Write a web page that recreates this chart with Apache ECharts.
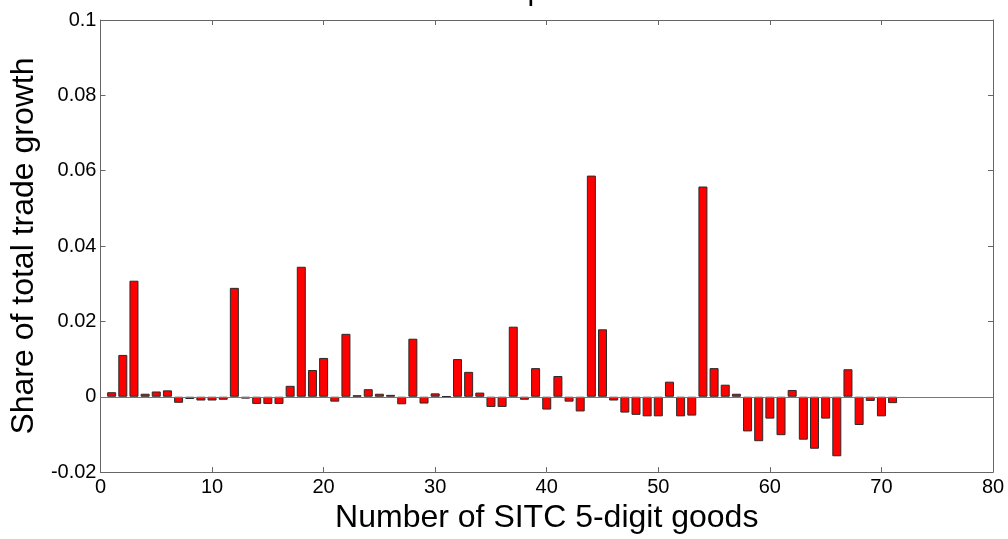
<!DOCTYPE html>
<html>
<head>
<meta charset="utf-8">
<script src="https://cdn.jsdelivr.net/npm/echarts@6/dist/echarts.min.js"></script>
<style>
html,body{margin:0;padding:0;background:#fff;}
#c{width:1008px;height:539px;}
</style>
</head>
<body>
<div id="c"></div>
<script>
// Data
const goods = [1,2,3,4,5,6,7,8,9,10,11,12,13,14,15,16,17,18,19,20,21,22,23,24,25,26,27,28,29,30,31,32,33,34,35,36,37,38,39,40,41,42,43,44,45,46,47,48,49,50,51,52,53,54,55,56,57,58,59,60,61,62,63,64,65,66,67,68,69,70,71];
const shareOfGrowth = [
  0.0012, 0.0111, 0.0308, 0.0008, 0.0014, 0.0017, -0.0016, -0.0006, -0.0010, -0.0010,
  -0.0008, 0.0289, -0.0005, -0.0019, -0.0019, -0.0019, 0.0029, 0.0345, 0.0071, 0.0103,
  -0.0013, 0.0167, 0.0004, 0.0020, 0.0008, 0.0005, -0.0020, 0.0154, -0.0018, 0.0009,
  0.0001, 0.0100, 0.0066, 0.0011, -0.0027, -0.0027, 0.0186, -0.0008, 0.0076, -0.0034,
  0.0055, -0.0013, -0.0039, 0.0587, 0.0179, -0.0010, -0.0042, -0.0048, -0.0052, -0.0052,
  0.0040, -0.0052, -0.0050, 0.0558, 0.0076, 0.0032, 0.0008, -0.0092, -0.0118, -0.0058,
  -0.0102, 0.0018, -0.0114, -0.0138, -0.0058, -0.0158, 0.0073, -0.0075, -0.0011, -0.0052,
  -0.0017
];
const xTicks = [0, 10, 20, 30, 40, 50, 60, 70, 80];
const yTicks = [-0.02, 0, 0.02, 0.04, 0.06, 0.08, 0.1];
const titleText = 'Sub-Saharan Africa exports to China';
const xName = 'Number of SITC 5-digit goods';
const yName = 'Share of total trade growth';

const FONT = '"Liberation Sans", Arial, sans-serif';
const axisColor = '#666';

const chart = echarts.init(document.getElementById('c'), null, {renderer: 'canvas'});
const fmtY = v => {
  const r = Math.round(v * 1000) / 1000;
  return r === 0 ? '0' : String(r);
};
const hiddenAxisCommon = {
  axisLine: {show: true, onZero: false, lineStyle: {color: axisColor, width: 1}},
  axisTick: {show: true, inside: true, length: 5, lineStyle: {color: axisColor}},
  axisLabel: {show: false},
  splitLine: {show: false}
};
chart.setOption({
  animation: false,
  backgroundColor: '#fff',
  graphic: [{
    type: 'text',
    x: 470, y: 7,
    style: {text: titleText, font: '30px ' + FONT, fill: '#000', align: 'center', verticalAlign: 'bottom'}
  }],
  grid: {left: 100, right: 15, top: 20, bottom: 60, containLabel: false},
  xAxis: [{
    type: 'value', min: xTicks[0], max: xTicks[xTicks.length - 1], interval: 10,
    position: 'bottom',
    name: xName, nameLocation: 'middle', nameGap: 22,
    nameTextStyle: {fontFamily: FONT, fontSize: 32, color: '#000', verticalAlign: 'top'},
    axisLine: {show: true, onZero: false, lineStyle: {color: axisColor, width: 1}},
    axisTick: {show: true, inside: true, length: 5, lineStyle: {color: axisColor}},
    axisLabel: {fontFamily: FONT, fontSize: 20, color: '#000', margin: 5},
    splitLine: {show: false}
  }, Object.assign({
    type: 'value', min: xTicks[0], max: xTicks[xTicks.length - 1], interval: 10, position: 'top'
  }, hiddenAxisCommon)],
  yAxis: [{
    type: 'value', min: yTicks[0], max: yTicks[yTicks.length - 1], interval: 0.02,
    position: 'left',
    name: yName, nameLocation: 'middle', nameGap: 58,
    nameTextStyle: {fontFamily: FONT, fontSize: 32, color: '#000'},
    axisLine: {show: true, onZero: false, lineStyle: {color: axisColor, width: 1}},
    axisTick: {show: true, inside: true, length: 5, lineStyle: {color: axisColor}},
    axisLabel: {fontFamily: FONT, fontSize: 20, color: '#000', margin: 4, formatter: fmtY},
    splitLine: {show: false}
  }, Object.assign({
    type: 'value', min: yTicks[0], max: yTicks[yTicks.length - 1], interval: 0.02, position: 'right'
  }, hiddenAxisCommon)],
  series: [{
    type: 'bar',
    xAxisIndex: 0, yAxisIndex: 0,
    data: goods.map((g, i) => [g, shareOfGrowth[i]]),
    barWidth: 9,
    itemStyle: {color: '#ff0000', borderColor: '#2a2a2a', borderWidth: 1},
    markLine: {
      silent: true, symbol: 'none',
      label: {show: false},
      lineStyle: {color: '#777', type: 'solid', width: 1},
      data: [{yAxis: 0}]
    }
  }]
});
</script>
</body>
</html>
